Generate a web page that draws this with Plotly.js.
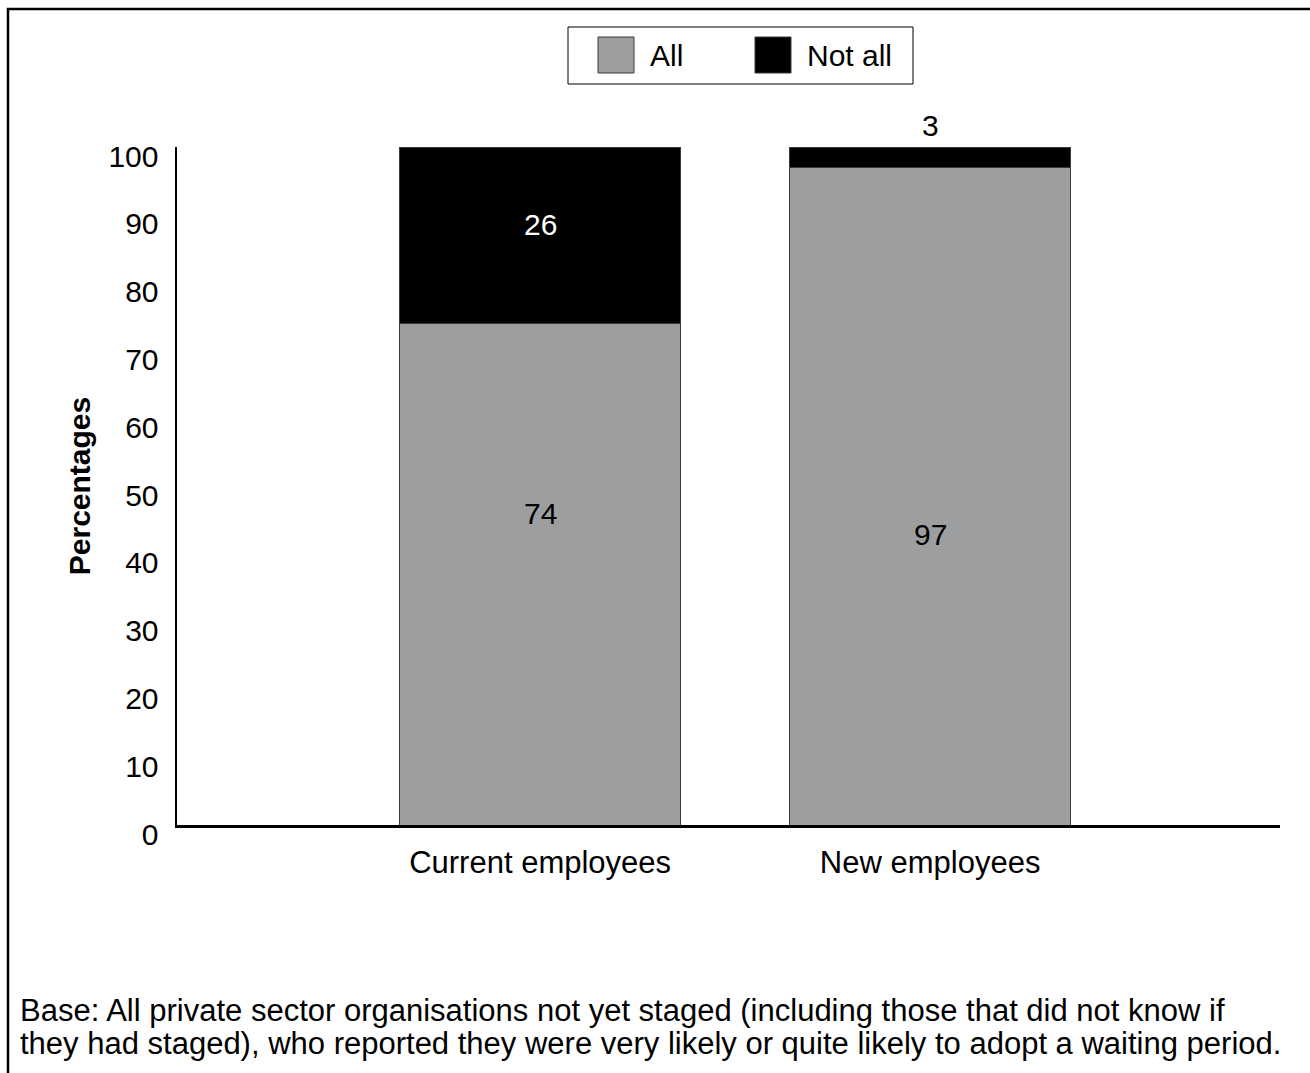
<!DOCTYPE html>
<html>
<head>
<meta charset="utf-8">
<script src="https://cdn.plot.ly/plotly-3.0.1.min.js"></script>
<style>
  html, body { margin: 0; padding: 0; background: #fff; }
  #chart { width: 1310px; height: 1073px; }
</style>
</head>
<body>
<div id="chart"></div>
<script>
// Employee groups along the x axis
const categories = ['Current employees', 'New employees'];
// Stacked shares (percentages)
const allValues = [74, 97];
const notAllValues = [26, 3];
const seriesNames = ['All', 'Not all'];
const yTicks = [0, 10, 20, 30, 40, 50, 60, 70, 80, 90, 100];
const footnoteLines = [
  'Base: All private sector organisations not yet staged (including those that did not know if',
  'they had staged), who reported they were very likely or quite likely to adopt a waiting period.'
];

const FONT = '"Liberation Sans", Arial, sans-serif';
const GREY = '#9d9ea0';
const BLACK = '#000000';
const W = 1310, H = 1073;
const M = { l: 177, r: 30, t: 147, b: 248 };
const Y_RANGE = [0, 100];
const plotW = W - M.l - M.r, plotH = H - M.t - M.b;
// pixel -> paper helpers for the frame, legend block and footnote
const px = x => (x - M.l) / plotW;
const py = y => (H - M.b - y) / plotH;
// axis value -> paper (for labels that may sit above the axis range)
const vy = v => (v - Y_RANGE[0]) / (Y_RANGE[1] - Y_RANGE[0]);

const traces = [
  {
    type: 'bar', name: seriesNames[0], x: categories, y: allValues,
    marker: { color: GREY, line: { color: '#3a3a3a', width: 1 } },
    width: 0.72, hoverinfo: 'skip'
  },
  {
    type: 'bar', name: seriesNames[1], x: categories, y: notAllValues,
    marker: { color: BLACK, line: { color: '#3a3a3a', width: 1 } },
    width: 0.72, hoverinfo: 'skip'
  }
];

// label anchors (axis units): the "All" labels sit around mid-chart,
// a thin "Not all" segment gets its label just above the bar
const allLabelY = [46.0, 42.8];
const annotations = [];
categories.forEach((c, i) => {
  annotations.push({
    x: c, y: vy(allLabelY[i]), xref: 'x', yref: 'paper', yanchor: 'middle',
    text: String(allValues[i]), showarrow: false,
    font: { family: FONT, size: 30, color: '#000' }
  });
  const top = allValues[i] + notAllValues[i];
  const small = notAllValues[i] < 10;
  annotations.push({
    x: c, y: vy(small ? top + 3.1 : allValues[i] + notAllValues[i] * 0.56), xref: 'x', yref: 'paper',
    yanchor: 'middle', text: String(notAllValues[i]), showarrow: false,
    font: { family: FONT, size: 30, color: small ? '#000' : '#fff' }
  });
});

const shapes = [
  // outer frame
  { type: 'rect', xref: 'paper', yref: 'paper', x0: px(8), x1: px(1330), y0: py(1090), y1: py(9),
    line: { color: '#000', width: 2.5 }, fillcolor: 'rgba(0,0,0,0)', layer: 'below' },
  // legend box
  { type: 'rect', xref: 'paper', yref: 'paper', x0: px(568), x1: px(913), y0: py(84), y1: py(27),
    line: { color: '#000', width: 1 }, fillcolor: '#fff' }
];
// legend entries
const legendSwatchX = [598, 755];
const legendTextX = [648, 805];
[GREY, BLACK].forEach((col, i) => {
  shapes.push({ type: 'rect', xref: 'paper', yref: 'paper',
    x0: px(legendSwatchX[i]), x1: px(legendSwatchX[i] + 36), y0: py(73), y1: py(37),
    line: { color: '#3a3a3a', width: 1 }, fillcolor: col });
  annotations.push({ xref: 'paper', yref: 'paper', x: px(legendTextX[i]), y: py(55),
    xanchor: 'left', yanchor: 'middle', text: seriesNames[i], showarrow: false,
    font: { family: FONT, size: 30, color: '#000' } });
});

// footnote, one annotation per line
const footY = [1010, 1043];
footnoteLines.forEach((line, i) => {
  annotations.push({
    xref: 'paper', yref: 'paper', x: px(18), y: py(footY[i]), xanchor: 'left', yanchor: 'middle',
    text: line, showarrow: false,
    font: { family: FONT, size: 31, color: '#000' }
  });
});

const layout = {
  width: W, height: H,
  margin: M,
  paper_bgcolor: '#fff', plot_bgcolor: '#fff',
  barmode: 'stack',
  showlegend: false,
  font: { family: FONT, size: 30, color: '#000' },
  xaxis: {
    type: 'category', range: [-0.931, 1.897],
    showline: true, linecolor: '#000', linewidth: 2.5,
    ticks: '', showgrid: false, zeroline: false,
    ticklabelstandoff: 8,
    tickfont: { family: FONT, size: 31, color: '#000' }
  },
  yaxis: {
    range: Y_RANGE, tickvals: yTicks, ticktext: yTicks.map(String),
    showline: true, linecolor: '#000', linewidth: 2.5,
    ticks: '', showgrid: false, zeroline: false,
    ticklabelstandoff: 10, ticklabelshift: 9,
    tickfont: { family: FONT, size: 30, color: '#000' },
    title: { text: '<b>Percentages</b>', standoff: 9,
      font: { family: FONT, size: 30, color: '#000' } }
  },
  shapes: shapes,
  annotations: annotations
};

Plotly.newPlot('chart', traces, layout, { staticPlot: true, displayModeBar: false });
</script>
</body>
</html>
